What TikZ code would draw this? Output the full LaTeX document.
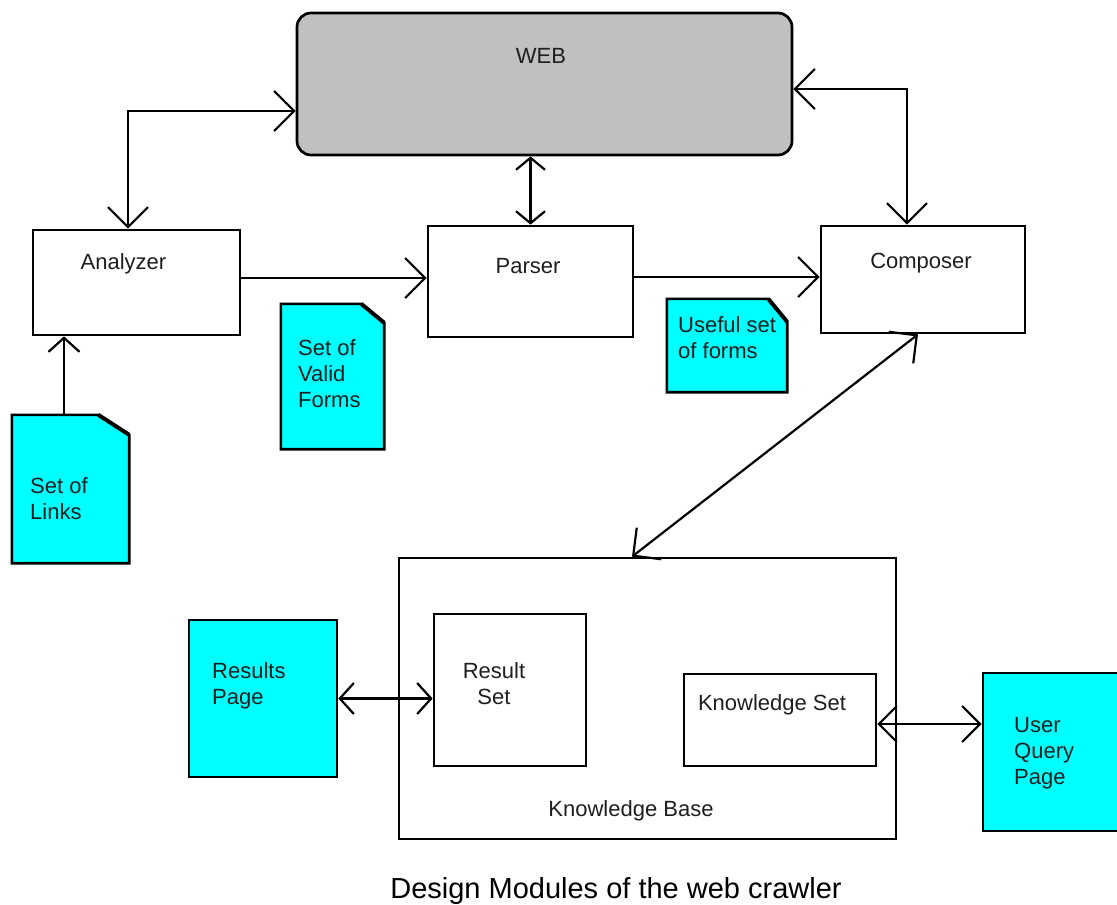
\documentclass[tikz,border=0pt]{standalone}
\usepackage{fontspec}
\setmainfont{Liberation Sans}
\usetikzlibrary{arrows.meta}

\definecolor{webgray}{HTML}{C0C0C0}
\definecolor{doccyan}{HTML}{00FFFF}
\definecolor{inkgray}{HTML}{1E1E1E}

\tikzset{
	module/.style = {draw, line width = 2.7pt, inner sep = 0pt},
	docpage/.style = {fill = doccyan, draw, line width = 2.6pt},
	link/.style = {line width = 2.2pt},
	bigbarb/.style = {>={Straight Barb[length=20pt, width=40pt]}},
	lbl/.style = {inner sep = 0pt, text = inkgray, font = \fontsize{22}{26}\selectfont},
	>={Straight Barb[length=14pt, width=31pt]}
}

\begin{document}
\begin{tikzpicture}[x = 1pt, y = -1pt]
\useasboundingbox (0,0) rectangle (1117,905);

% modules
\node[module, fill = webgray, rounded corners = 14pt, minimum width = 495pt, minimum height = 142pt] (web) at (544.5,84) {};
\node[module, minimum width = 207pt, minimum height = 105pt] (analyzer) at (136.5,282.5) {};
\node[module, minimum width = 205pt, minimum height = 111pt] (parser) at (530.5,281.5) {};
\node[module, minimum width = 204pt, minimum height = 107pt] (composer) at (923,279.5) {};
\node[module, minimum width = 497pt, minimum height = 281pt] (kb) at (647.5,698.5) {};
\node[module, minimum width = 152pt, minimum height = 152pt] (rset) at (510,690) {};
\node[module, minimum width = 192pt, minimum height = 92pt] (kset) at (780,720) {};

% pages
\node[module, fill = doccyan, minimum width = 148pt, minimum height = 157pt] (rpage) at (263,698.5) {};
\node[module, fill = doccyan, minimum width = 150pt, minimum height = 158pt] (uquery) at (1058,752) {};

\foreach \name/\cx/\cy/\w/\h/\fx/\fy in {links/70.5/489/117/148/31/20, forms/332.5/376.5/103/145/23/19, useful/727/345.5/120/93/19/23} {
	\node[minimum width = \w pt, minimum height = \h pt, inner sep = 0pt] (\name) at (\cx,\cy) {};
	\filldraw[docpage] (\name.south west) -- (\name.north west) -- ([xshift = -\fx pt]\name.north east)
		-- ([yshift = -\fy pt]\name.north east) -- (\name.south east) -- cycle;
	\draw[line width = 4pt] ([xshift = -\fx pt]\name.north east) -- ([yshift = -\fy pt]\name.north east);
}

% labels
\node[lbl, anchor = base] (weblbl) at (541,63) {WEB};
\node[lbl, anchor = base] (analyzerlbl) at (123.5,269) {Analyzer};
\node[lbl, anchor = base] (parserlbl) at (528,273) {Parser};
\node[lbl, anchor = base] (composerlbl) at (921,268) {Composer};
\node[lbl, anchor = base] (kblbl) at (631,816) {Knowledge Base};
\node[lbl, anchor = base] (ksetlbl) at (772,710) {Knowledge Set};
\node[lbl, anchor = north, align = center] (rsetlbl) at (494,662) {Result\\Set};
\node[lbl, anchor = north west, align = left] (rpagelbl) at (212,662) {Results\\Page};
\node[lbl, anchor = north west, align = left] (uquerylbl) at (1014,717) {User\\Query\\Page};
\node[lbl, anchor = north west, align = left] (linkslbl) at (30,477) {Set of\\Links};
\node[lbl, anchor = north west, align = left] (formslbl) at (298,339) {Set of\\Valid\\Forms};
\node[lbl, anchor = north west, align = left] (usefullbl) at (678,316) {Useful set\\of forms};
\node[inner sep = 0pt, font = \fontsize{29}{34}\selectfont, anchor = base] (caption) at (616,898) {Design Modules of the web crawler};

% connectors
\coordinate (aw) at (128,111);
\coordinate (cw) at (907,89);
\coordinate (ap) at (0,278);
\coordinate (pc) at (0,277);
\coordinate (la) at (64,0);
\coordinate (kq) at (0,724);
\coordinate (ck) at (918,0);
\coordinate (kc) at (632,0);

\draw[link, <->, bigbarb] (analyzer.north -| aw) |- (web.west |- aw);
\draw[link, <->, >={Straight Barb[length=12pt, width=29pt]}] (web.south -| parser.north) -- (parser.north);
\draw[link, <->, bigbarb] (web.east |- cw) -| (composer.north -| cw);
\draw[link, ->, bigbarb] (analyzer.east |- ap) -- (parser.west |- ap);
\draw[link, ->, bigbarb] (parser.east |- pc) -- (composer.west |- pc);
\draw[link, ->] (links.north -| la) -- (analyzer.south -| la);
\draw[link, <->, bigbarb] (composer.south -| ck) -- (kb.north -| kc);
\draw[link, <->] (rpage.east) -- (rset.west |- rpage.east);
\draw[link, <->, >={Straight Barb[length=18pt, width=36pt]}] (kset.east |- kq) -- (uquery.west |- kq);
\end{tikzpicture}
\end{document}
